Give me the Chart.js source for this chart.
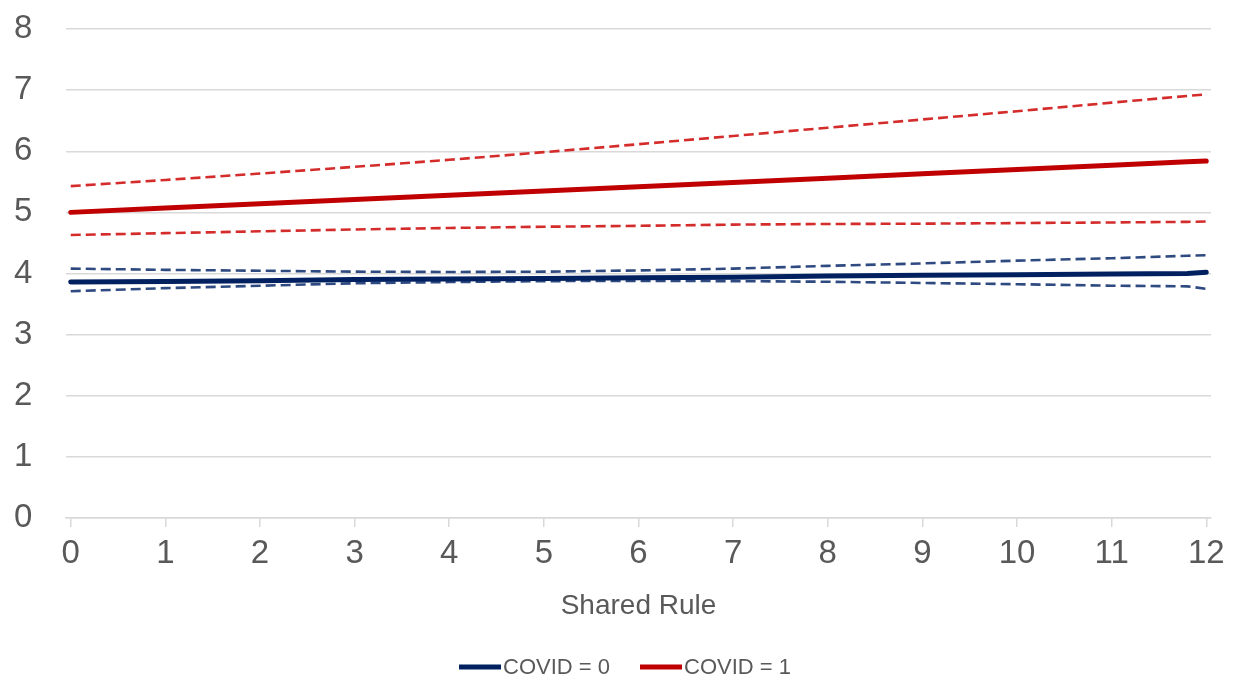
<!DOCTYPE html>
<html>
<head>
<meta charset="utf-8">
<script src="https://cdn.jsdelivr.net/npm/chart.js@4/dist/chart.umd.min.js"></script>
<style>
  html, body { margin: 0; padding: 0; background: #ffffff; }
  #wrap { width: 1236px; height: 680px; }
</style>
</head>
<body>
<div id="wrap"><canvas id="chart" width="1236" height="680"></canvas></div>
<script>
// Shared Rule values on the x axis
const sharedRule = [0, 1, 2, 3, 4, 5, 6, 7, 8, 9, 10, 11, 11.8, 12];
const xTickLabels = ['0', '1', '2', '3', '4', '5', '6', '7', '8', '9', '10', '11', '12'];
const yTickLabels = ['0', '1', '2', '3', '4', '5', '6', '7', '8'];

// COVID = 0: predicted value with upper / lower confidence bounds
const covid0 = [3.86, 3.87, 3.88, 3.90, 3.91, 3.92, 3.93, 3.94, 3.96, 3.97, 3.98, 3.99, 4.00, 4.02];
const covid0Upper = [4.08, 4.06, 4.045, 4.03, 4.025, 4.03, 4.05, 4.08, 4.125, 4.165, 4.21, 4.25, 4.29, 4.30];
const covid0Lower = [3.71, 3.76, 3.80, 3.84, 3.86, 3.875, 3.88, 3.875, 3.865, 3.845, 3.825, 3.80, 3.79, 3.75];

// COVID = 1: predicted value with upper / lower confidence bounds
const covid1 = [5.00, 5.07, 5.14, 5.21, 5.28, 5.35, 5.42, 5.49, 5.56, 5.63, 5.70, 5.77, 5.83, 5.84];
const covid1Upper = [5.43, 5.53, 5.635, 5.745, 5.86, 5.985, 6.115, 6.25, 6.385, 6.52, 6.655, 6.795, 6.905, 6.93];
const covid1Lower = [4.63, 4.66, 4.69, 4.72, 4.745, 4.765, 4.78, 4.80, 4.81, 4.815, 4.825, 4.835, 4.845, 4.85];

const seriesNames = ['COVID = 0', 'COVID = 1'];

const BLUE = '#002060';
const RED = '#C00000';
const BLUE_DASH = '#2E4A80';
const RED_DASH = '#D42B2B';
const TEXT = '#595959';
const GRID = '#D9D9D9';
const FONT = "'Liberation Sans', Arial, sans-serif";

const points = vals => vals.map((v, i) => ({ x: sharedRule[i], y: v }));

function solid(label, vals, color) {
  return {
    label, data: points(vals), borderColor: color, backgroundColor: color,
    borderWidth: 5, pointRadius: 0, tension: 0, inLegend: true,
    borderCapStyle: 'round', borderJoinStyle: 'round'
  };
}
function dashed(label, vals, color) {
  return {
    label, data: points(vals), borderColor: color, backgroundColor: color,
    borderWidth: 2.6, borderDash: [10, 5], pointRadius: 0, tension: 0, inLegend: false
  };
}

// Legend under the axis title: short thick line followed by the series name
const bottomLegend = {
  id: 'bottomLegend',
  afterDraw(chart) {
    const ctx = chart.ctx;
    const items = chart.data.datasets.filter(d => d.inLegend);
    const lineW = 42, lineH = 5, textGap = 2, itemGap = 30;
    ctx.save();
    ctx.font = '22px ' + FONT;
    const widths = items.map(d => lineW + textGap + ctx.measureText(d.label).width);
    const total = widths.reduce((a, b) => a + b, 0) + itemGap * (items.length - 1);
    let x = 625 - total / 2;
    const y = 667;
    items.forEach((d, i) => {
      ctx.fillStyle = d.borderColor;
      ctx.fillRect(x, y - lineH / 2, lineW, lineH);
      ctx.fillStyle = TEXT;
      ctx.textBaseline = 'middle';
      ctx.textAlign = 'left';
      ctx.fillText(d.label, x + lineW + textGap, y + 1);
      x += widths[i] + itemGap;
    });
    ctx.restore();
  }
};

new Chart(document.getElementById('chart'), {
  type: 'line',
  data: {
    datasets: [
      solid(seriesNames[0], covid0, BLUE),
      solid(seriesNames[1], covid1, RED),
      dashed(seriesNames[0] + ' upper', covid0Upper, BLUE_DASH),
      dashed(seriesNames[0] + ' lower', covid0Lower, BLUE_DASH),
      dashed(seriesNames[1] + ' upper', covid1Upper, RED_DASH),
      dashed(seriesNames[1] + ' lower', covid1Lower, RED_DASH)
    ]
  },
  options: {
    responsive: false,
    animation: false,
    devicePixelRatio: 1,
    layout: { autoPadding: false, padding: { left: 14, right: 25, top: 29, bottom: 57 } },
    plugins: {
      legend: { display: false },
      tooltip: { enabled: false }
    },
    scales: {
      x: {
        type: 'linear',
        min: -0.05,
        max: 12.05,
        afterBuildTicks: scale => {
          scale.ticks = xTickLabels.map(t => ({ value: Number(t) }));
        },
        afterFit: scale => { scale.height = 105; },
        ticks: {
          callback: v => xTickLabels[v] !== undefined ? xTickLabels[v] : '',
          font: { family: FONT, size: 33 },
          color: TEXT,
          padding: 7,
          maxRotation: 0
        },
        grid: { drawOnChartArea: false, drawTicks: true, tickLength: 9, color: GRID, lineWidth: 1.5 },
        border: { display: true, color: GRID, width: 1.5 },
        title: {
          display: true,
          text: 'Shared Rule',
          font: { family: FONT, size: 28 },
          color: TEXT,
          padding: { top: 14, bottom: 0 }
        }
      },
      y: {
        min: 0,
        max: 8,
        afterBuildTicks: scale => {
          scale.ticks = yTickLabels.map(t => ({ value: Number(t) }));
        },
        afterFit: scale => { scale.width = 52; },
        ticks: {
          callback: v => yTickLabels[v] !== undefined ? yTickLabels[v] : '',
          font: { family: FONT, size: 33 },
          color: TEXT,
          padding: 0,
          crossAlign: 'far'
        },
        grid: { color: GRID, drawTicks: false, lineWidth: 1.5 },
        border: { display: false }
      }
    }
  },
  plugins: [bottomLegend]
});
</script>
</body>
</html>
